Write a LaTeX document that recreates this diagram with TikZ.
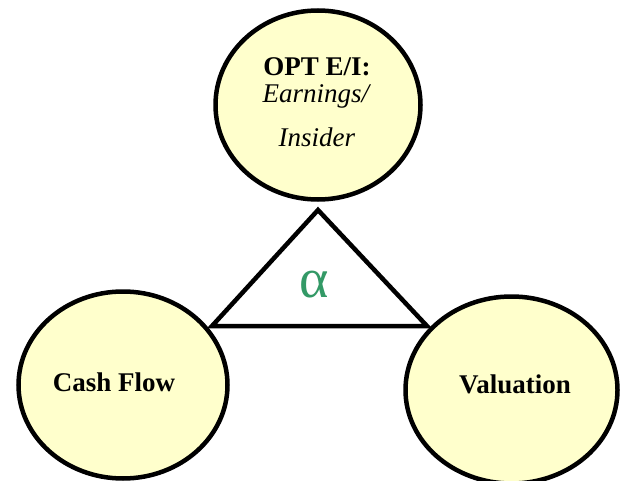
\documentclass[tikz,border=0pt]{standalone}
\usepackage{fontspec}
\setmainfont{Liberation Serif}
\usetikzlibrary{shapes.geometric}
\definecolor{bubblefill}{RGB}{255,255,204}
\definecolor{alphagreen}{RGB}{51,153,102}
\tikzset{bubble/.style={ellipse, draw=black, line width=4.5pt,
			fill=bubblefill, inner sep=0pt},
		lbl/.style={font=\fontsize{27}{27}\selectfont\bfseries,
			inner sep=0pt}}

\begin{document}
\begin{tikzpicture}[x=1pt,y=-1pt]
		\useasboundingbox (0,0) rectangle (626,481);
		
		\node[bubble, minimum width=205pt, minimum height=189pt] (opt) at (318,105) {};
		\node[bubble, minimum width=209pt, minimum height=187pt] (cashflow) at (123,385) {};
		\node[bubble, minimum width=212pt, minimum height=187pt] (valuation) at (511.5,390) {};
		
		\coordinate (apex) at (318,210);
		\coordinate (baseL) at (212,326);
		\coordinate (baseR) at (427,326);
		\draw[line width=4.5pt] (apex) -- (baseL) -- (baseR) -- cycle;
		\node[font=\fontsize{56}{56}\selectfont, text=alphagreen, inner sep=0pt] (alpha) at (314,284.5) {α};
		
		\node[lbl, align=center, anchor=north] (opttext) at (317,57)
			{OPT E/I:\\ \textit{\mdseries Earnings/}\\[17pt] \textit{\mdseries Insider}};
		\node[lbl] (cashtext) at (114,382) {Cash Flow};
		\node[lbl] (valtext) at (515,384) {Valuation};
	\end{tikzpicture}
\end{document}
